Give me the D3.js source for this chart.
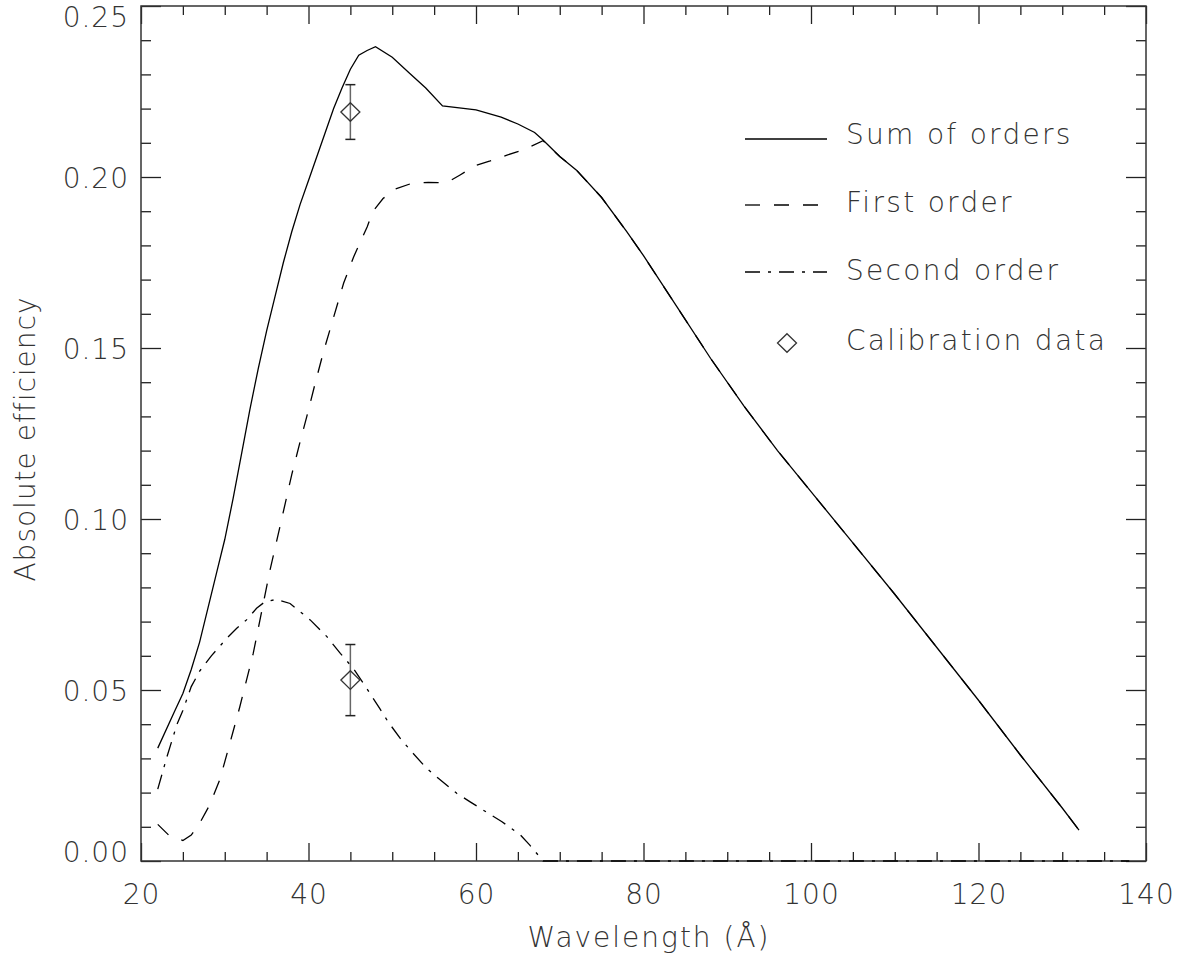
<!DOCTYPE html>
<html>
<head>
<meta charset="utf-8">
<script src="https://cdn.jsdelivr.net/npm/d3@7"></script>
<style>
  body { margin: 0; background: #fff; }
  svg text { font-family: "DejaVu Sans", sans-serif; font-weight: 200; fill: #333; }
</style>
</head>
<body>
<svg id="chart" width="1190" height="960"></svg>
<script>
// Sum of orders
var sumWave = [22, 24, 25, 26, 27, 28, 29, 30, 31, 32, 33, 34, 35, 36, 37, 38, 39, 40, 41, 42, 43, 44, 45, 46, 47, 48, 50, 52, 54, 56, 60, 63, 65, 67, 68, 70, 72, 75, 78, 80, 84, 88, 92, 96, 100, 105, 110, 115, 120, 125, 130, 132]
var sumEff = [0.033, 0.0437, 0.049, 0.056, 0.064, 0.074, 0.084, 0.094, 0.106, 0.119, 0.132, 0.144, 0.155, 0.165, 0.175, 0.184, 0.192, 0.199, 0.206, 0.213, 0.220, 0.226, 0.2315, 0.2356, 0.237, 0.2381, 0.235, 0.2305, 0.226, 0.2208, 0.2196, 0.2175, 0.2155, 0.213, 0.2108, 0.206, 0.202, 0.194, 0.184, 0.177, 0.162, 0.147, 0.133, 0.120, 0.108, 0.093, 0.078, 0.0625, 0.047, 0.031, 0.0155, 0.009]

// First order
var firstWave = [22, 23.5, 25, 26, 27, 28.2, 29.4, 30.4, 31.8, 33.4, 34.6, 35.4, 36.8, 38, 39, 39.8, 40.8, 41.8, 43, 44.2, 45.4, 47, 47.7, 48.9, 50.3, 52.5, 54.3, 56.5, 58.1, 59.9, 61.7, 63.7, 65.6, 68, 70, 72, 75, 78, 80, 84, 88, 92, 96, 100, 105, 110, 115, 120, 125, 130, 132]
var firstEff = [0.0107, 0.0071, 0.006, 0.0076, 0.011, 0.0164, 0.0237, 0.0325, 0.0451, 0.0607, 0.0753, 0.085, 0.100, 0.113, 0.1226, 0.130, 0.1397, 0.149, 0.159, 0.169, 0.1767, 0.1854, 0.190, 0.1937, 0.1964, 0.1983, 0.1984, 0.1983, 0.2006, 0.2033, 0.2047, 0.2064, 0.2079, 0.2106, 0.206, 0.202, 0.194, 0.184, 0.177, 0.162, 0.147, 0.133, 0.120, 0.108, 0.093, 0.078, 0.0625, 0.047, 0.031, 0.0155, 0.009]

// Second order
var secondWave = [22, 23.1, 24.3, 25, 26, 27, 28.4, 30.2, 31.4, 32.6, 33.8, 34.8, 36.2, 37.8, 40.2, 42.2, 43.8, 45.35, 46.95, 48.5, 49.5, 51.1, 52.3, 54.1, 55.5, 57.7, 59.3, 61.5, 63.1, 65.3, 66.4, 67.4, 68, 138]
var secondEff = [0.021, 0.0305, 0.040, 0.044, 0.051, 0.0555, 0.060, 0.065, 0.068, 0.0705, 0.0739, 0.0758, 0.0765, 0.0753, 0.0705, 0.0656, 0.0607, 0.0563, 0.0505, 0.0446, 0.0407, 0.0354, 0.032, 0.0271, 0.0242, 0.0198, 0.0173, 0.0139, 0.0115, 0.0076, 0.0047, 0.0018, 0, 0]

// Calibration data
var calWave = [45, 45]
var calEff = [0.219, 0.0529]
var calErr = [0.008, 0.0104]

var xMajor = [20, 40, 60, 80, 100, 120, 140]
var yMajor = [0, 0.05, 0.10, 0.15, 0.20, 0.25]

var legendLabels = ["Sum of orders", "First order", "Second order", "Calibration data"]

var svg = d3.select("#chart")

var x = d3.scaleLinear().domain([20, 140]).range([141, 1146])
var y = d3.scaleLinear().domain([0, 0.25]).range([861, 6])

var xMinor = d3.range(20, 141, 5).filter(function(d) { return d % 20 != 0 })
var yMinor = d3.range(0, 26, 1).map(function(d) { return d / 100 }).filter(function(d, i) { return i % 5 != 0 })

function tickAxis(axis, vals, size, pos) {
	var g = svg.append("g")
		.attr("transform", pos)
		.call(axis.tickValues(vals).tickSize(size).tickFormat(""))
	g.select(".domain").remove()
	g.selectAll(".tick line").attr("stroke", "#222").attr("stroke-width", 1.3)
	return g
}

// minor + major ticks on all four sides, pointing inward
tickAxis(d3.axisBottom(x), xMinor, -9, "translate(0,861)")
tickAxis(d3.axisTop(x), xMinor, -9, "translate(0,6)")
tickAxis(d3.axisTop(x), xMajor, -18, "translate(0,6)")
tickAxis(d3.axisLeft(y), yMinor, -10, "translate(141,0)")
tickAxis(d3.axisRight(y), yMinor, -10, "translate(1146,0)")
tickAxis(d3.axisRight(y), yMajor, -20, "translate(1146,0)")

var xAxis = svg.append("g")
	.attr("transform", "translate(0,861)")
	.call(d3.axisBottom(x).tickValues(xMajor).tickSize(-18).tickPadding(23).tickFormat(d3.format("d")))
xAxis.select(".domain").remove()
xAxis.selectAll(".tick line").attr("stroke", "#222").attr("stroke-width", 1.3)
xAxis.selectAll("text").attr("font-size", 28).attr("fill", "#333").attr("letter-spacing", 1)

var yAxis = svg.append("g")
	.attr("transform", "translate(141,0)")
	.call(d3.axisLeft(y).tickValues(yMajor).tickSize(-20).tickPadding(12).tickFormat(d3.format(".2f")))
yAxis.select(".domain").remove()
yAxis.selectAll(".tick line").attr("stroke", "#222").attr("stroke-width", 1.3)
yAxis.selectAll("text")
	.attr("font-size", 28).attr("fill", "#333").attr("letter-spacing", 1)
	.attr("dy", function(d) { return d == 0 ? "0em" : (d == 0.25 ? "0.72em" : "0.36em") })

// frame
svg.append("rect")
	.attr("x", 141).attr("y", 6)
	.attr("width", 1146 - 141).attr("height", 861 - 6)
	.attr("fill", "none").attr("stroke", "#333").attr("stroke-width", 1.5)

var line = d3.line()
	.x(function(d) { return x(d[0]) })
	.y(function(d) { return y(d[1]) })

function zipSeries(w, v) {
	return w.map(function(d, i) { return [d, v[i]] })
}

var styles = [
	{ w: sumWave, v: sumEff, dash: null },
	{ w: firstWave, v: firstEff, dash: "15,14" },
	{ w: secondWave, v: secondEff, dash: "15,8,3,8" }
]

styles.forEach(function(s) {
	svg.append("path")
		.datum(zipSeries(s.w, s.v))
		.attr("d", line)
		.attr("fill", "none")
		.attr("stroke", "#000")
		.attr("stroke-width", 1.3)
		.attr("stroke-dasharray", s.dash)
})

// calibration points with error bars
var cal = svg.selectAll(".cal")
	.data(calWave.map(function(d, i) { return { w: d, v: calEff[i], e: calErr[i] } }))
	.enter().append("g")
	.attr("class", "cal")

cal.append("line")
	.attr("x1", function(d) { return x(d.w) }).attr("x2", function(d) { return x(d.w) })
	.attr("y1", function(d) { return y(d.v + d.e) }).attr("y2", function(d) { return y(d.v - d.e) })
	.attr("stroke", "#666").attr("stroke-width", 1.5)
;[1, -1].forEach(function(sgn) {
	cal.append("line")
		.attr("x1", function(d) { return x(d.w) - 5 }).attr("x2", function(d) { return x(d.w) + 5 })
		.attr("y1", function(d) { return y(d.v + sgn * d.e) }).attr("y2", function(d) { return y(d.v + sgn * d.e) })
		.attr("stroke", "#222").attr("stroke-width", 1.5)
})

var diamond = "M0,-9.3L9.5,0L0,9.3L-9.5,0Z"
cal.append("path")
	.attr("d", diamond)
	.attr("transform", function(d) { return "translate(" + x(d.w) + "," + y(d.v) + ")" })
	.attr("fill", "none").attr("stroke", "#333").attr("stroke-width", 1.3)

// legend
var legY = [139, 205, 272, 343]
var legBase = [144, 212, 280, 350]
var legend = svg.append("g")

styles.forEach(function(s, i) {
	legend.append("line")
		.attr("x1", 745).attr("x2", 827)
		.attr("y1", legY[i]).attr("y2", legY[i])
		.attr("stroke", "#000").attr("stroke-width", 1.3)
		.attr("stroke-dasharray", s.dash)
})
legend.append("path")
	.attr("d", diamond)
	.attr("transform", "translate(787," + legY[3] + ")")
	.attr("fill", "none").attr("stroke", "#333").attr("stroke-width", 1.3)

legend.selectAll("text")
	.data(legendLabels)
	.enter().append("text")
	.attr("x", 846)
	.attr("y", function(d, i) { return legBase[i] })
	.attr("font-size", 28)
	.attr("letter-spacing", 2.3)
	.text(function(d) { return d })

// axis titles
svg.append("text")
	.attr("x", 649).attr("y", 947)
	.attr("text-anchor", "middle")
	.attr("font-size", 28)
	.attr("letter-spacing", 2)
	.text("Wavelength (Å)")

svg.append("text")
	.attr("transform", "translate(35,439) rotate(-90)")
	.attr("text-anchor", "middle")
	.attr("font-size", 28)
	.attr("letter-spacing", 1)
	.text("Absolute efficiency")
</script>
</body>
</html>
